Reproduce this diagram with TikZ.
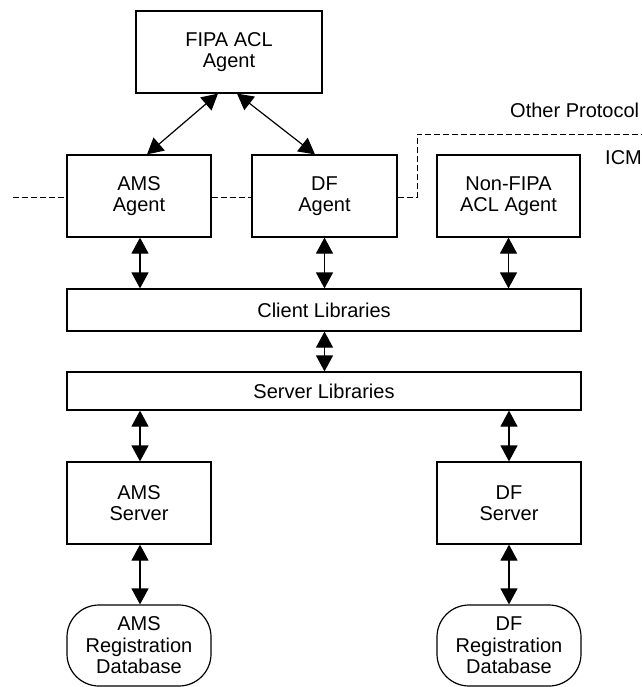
\documentclass[tikz,border=0pt]{standalone}
\usepackage{fontspec}
\setmainfont{Liberation Sans}
\usetikzlibrary{arrows.meta}
\begin{document}
\begin{tikzpicture}[x=1pt,y=-1pt,
  every node/.style={font=\fontsize{20}{21.5}\selectfont},
  box/.style={draw, line width=1.2pt, inner sep=0pt, align=center},
  dbox/.style={box, rounded corners=32pt},
  link/.style={line width=1.2pt, {Triangle[length=16pt,width=17pt]}-{Triangle[length=16pt,width=17pt]}},
  protoline/.style={line width=0.8pt, dash pattern=on 6pt off 3pt}]
\useasboundingbox (0,0) rectangle (641,687);
% boxes
\node[box, minimum width=186pt, minimum height=82pt] (fipa) at (229,52) {FIPA ACL\\Agent};
\node[box, minimum width=144pt, minimum height=82pt] (ams) at (139,196) {AMS\\Agent};
\node[box, minimum width=145pt, minimum height=82pt] (df) at (324.5,196) {DF\\Agent};
\node[box, minimum width=143pt, minimum height=82pt] (nonfipa) at (508.5,196) {Non-FIPA\\ACL Agent};
\node[box, minimum width=514pt, minimum height=42pt] (client) at (324,310) {Client Libraries};
\node[box, minimum width=514pt, minimum height=38pt] (server) at (324,391) {Server Libraries};
\node[box, minimum width=144pt, minimum height=82pt] (amss) at (139,503) {AMS\\Server};
\node[box, minimum width=144pt, minimum height=82pt] (dfs) at (509,503) {DF\\Server};
\node[dbox, minimum width=144pt, minimum height=81pt] (amsdb) at (139,645.5) {AMS\\Registration\\Database};
\node[dbox, minimum width=144pt, minimum height=81pt] (dfdb) at (509,645.5) {DF\\Registration\\Database};
% labels
\node[anchor=west, inner sep=0pt] (other) at (510,110) {Other Protocol};
\node[anchor=west, inner sep=0pt] (icm) at (605,158) {ICM};
% arrows
\draw[link] ([xshift=-11pt]fipa.south) -- ([xshift=8pt]ams.north);
\draw[link] ([xshift=8pt]fipa.south) -- ([xshift=-9.5pt]df.north);
\draw[link] ([xshift=1pt]ams.south) -- ([xshift=1pt]ams.south |- client.north);
\draw[link] (df.south) -- (df.south |- client.north);
\draw[link] (nonfipa.south) -- (nonfipa.south |- client.north);
\draw[link] (client.south -| df.south) -- (server.north -| df.south);
\draw[link] ([xshift=1pt]amss.north |- server.south) -- ([xshift=1pt]amss.north);
\draw[link] (dfs.north |- server.south) -- (dfs.north);
\draw[link] ([xshift=1pt]amss.south) -- ([xshift=1pt]amsdb.north);
\draw[link] (dfs.south) -- (dfdb.north);
% dashed protocol lines
\coordinate (lend) at (13,197);
\coordinate (c1) at (417,197);
\coordinate (c2) at (417,134);
\coordinate (rend) at (641,134);
\draw[protoline] (lend) -- (lend -| ams.west);
\draw[protoline] (ams.east |- lend) -- (df.west |- lend);
\draw[protoline] (df.east |- c1) -- (c1) -- (c2) -- (rend);
\end{tikzpicture}
\end{document}
